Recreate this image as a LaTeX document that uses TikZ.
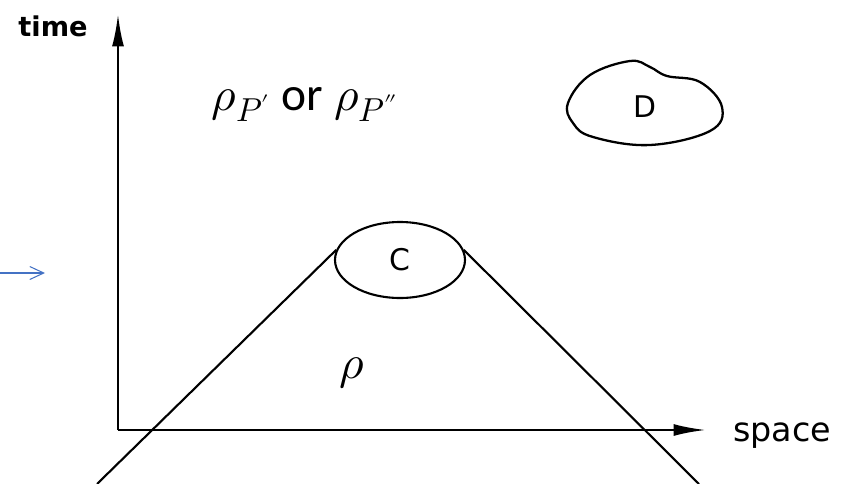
\documentclass[tikz,border=0pt]{standalone}
\usepackage{fontspec}
\usepackage{unicode-math}
\setmainfont{Carlito}
\setmathfont{Latin Modern Math}
\newfontfamily\scanfont{DejaVu Sans}
\usetikzlibrary{arrows.meta,shapes.geometric}

\begin{document}
\begin{tikzpicture}[x=0.02cm, y=-0.02cm,
    axis/.style={line width=1.5pt, -{Latex[length=6.5mm,width=2.4mm]}},
    cone/.style={line width=1.2pt},
    tag/.style={font=\scanfont\fontsize{17}{20}\selectfont, inner sep=0pt},
    dens/.style={font=\fontsize{27}{32}\selectfont, inner sep=0pt}]
    \useasboundingbox (0,0) rectangle (850,484);

    % axes
    \coordinate (origin) at (118,430);
    \coordinate (ttop) at (118,14);
    \coordinate (xend) at (706,430);
    \draw[axis] (origin) -- (ttop);
    \draw[axis] (origin) -- (xend);
    \node[tag, anchor=base, font=\scanfont\bfseries\fontsize{15.5}{18}\selectfont] (time) at (53,36) {time};
    \node[tag, anchor=base west, font=\scanfont\fontsize{19}{22}\selectfont] (space) at (733,441) {space};

    % region C and its cone
    \node[draw, ellipse, line width=1.2pt, minimum width=2.6cm, minimum height=1.52cm, inner sep=0pt] (C) at (400,260) {};
    \node[tag] (Clbl) at (400,260) {C};
    \coordinate (lfoot) at (97,484);
    \coordinate (rfoot) at (699,484);
    \draw[cone] (C.171) -- (lfoot);
    \draw[cone] (C.9) -- (rfoot);

    % region D
    \draw[line width=1.3pt] plot[smooth cycle, tension=0.65] coordinates {(568,103) (590,75) (630,61) (650,67) (667,76) (700,82) (722,107) (710,131) (650,145) (593,137) (573,123)};
    \node[tag] (D) at (645,107) {D};

    % states
    \node[dens, anchor=base] (rhoP) at (305,110) {$\rho_{P'}$ or $\rho_{P''}$};
    \node[dens, anchor=base] (rho) at (352,378) {$\rho$};

    % pointer
    \coordinate (ptail) at (0,273);
    \coordinate (phead) at (45,273);
    \draw[draw={rgb,255:red,68;green,114;blue,196}, line width=0.6pt, -{Straight Barb[length=2.8mm,width=2.6mm]}] (ptail) -- (phead);
\end{tikzpicture}
\end{document}
